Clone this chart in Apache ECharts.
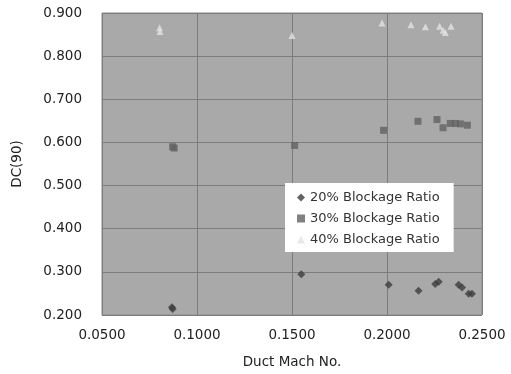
<!DOCTYPE html>
<html>
<head>
<meta charset="utf-8">
<script src="https://cdn.jsdelivr.net/npm/echarts@6/dist/echarts.min.js"></script>
<style>
  html, body { margin: 0; padding: 0; background: #fff; }
  #main { width: 511px; height: 374px; }
</style>
</head>
<body>
<div id="main"></div>
<script>
// series data
var mach20 = [0.0868, 0.0872, 0.1549, 0.2009, 0.2166, 0.2254, 0.2272, 0.2377, 0.2395, 0.2430, 0.2447];
var dc20 = [0.218, 0.214, 0.2945, 0.270, 0.256, 0.272, 0.277, 0.270, 0.264, 0.249, 0.249];

var mach30 = [0.0872, 0.0880, 0.1514, 0.1982, 0.2163, 0.2263, 0.2295, 0.2333, 0.2360, 0.2386, 0.2423];
var dc30 = [0.590, 0.587, 0.593, 0.628, 0.649, 0.653, 0.634, 0.644, 0.644, 0.643, 0.640];

var mach40 = [0.0803, 0.0805, 0.1500, 0.1974, 0.2126, 0.2202, 0.2277, 0.2295, 0.2307, 0.2337];
var dc40 = [0.866, 0.857, 0.848, 0.877, 0.873, 0.868, 0.869, 0.860, 0.855, 0.869];

var seriesNames = ['20% Blockage Ratio', '30% Blockage Ratio', '40% Blockage Ratio'];

function pairs(xs, ys) {
    return xs.map(function (x, i) { return [x, ys[i]]; });
}

var myChart = echarts.init(document.getElementById('main'));
var font = 'DejaVu Sans, sans-serif';

var option = {
    backgroundColor: '#fff',
    animation: false,
    grid: {
        left: 102,
        right: 29,
        top: 13,
        bottom: 56,
        show: true,
        backgroundColor: '#a9a9a9',
        borderColor: '#8a8a8a',
        borderWidth: 1
    },
    legend: {
        orient: 'vertical',
        left: 285,
        top: 183,
        padding: [8, 14, 6, 12],
        itemGap: 8,
        itemWidth: 8,
        itemHeight: 8,
        backgroundColor: '#fff',
        textStyle: { fontFamily: font, fontSize: 13, color: '#333' },
        data: seriesNames
    },
    xAxis: {
        type: 'value',
        min: 0.05,
        max: 0.25,
        interval: 0.05,
        name: 'Duct Mach No.',
        nameLocation: 'middle',
        nameGap: 40,
        nameTextStyle: { fontFamily: font, fontSize: 13.5, color: '#222' },
        axisLine: { show: false },
        axisTick: { show: false },
        axisLabel: {
            fontFamily: font, fontSize: 13.5, color: '#222', margin: 13,
            formatter: function (v) { return v.toFixed(4); }
        },
        splitLine: { lineStyle: { color: '#7c7c7c', width: 1 } }
    },
    yAxis: {
        type: 'value',
        min: 0.2,
        max: 0.9,
        interval: 0.1,
        name: 'DC(90)',
        nameLocation: 'middle',
        nameGap: 78,
        nameTextStyle: { fontFamily: font, fontSize: 13.5, color: '#222' },
        axisLine: { show: false },
        axisTick: { show: false },
        axisLabel: {
            fontFamily: font, fontSize: 13.5, color: '#222', margin: 20,
            formatter: function (v) { return v.toFixed(3); }
        },
        splitLine: { lineStyle: { color: '#7c7c7c', width: 1 } }
    },
    series: [{
        name: seriesNames[0],
        type: 'scatter',
        symbol: 'diamond',
        symbolSize: 8,
        itemStyle: { color: '#3c3c3c' },
        data: pairs(mach20, dc20)
    }, {
        name: seriesNames[1],
        type: 'scatter',
        symbol: 'rect',
        symbolSize: 7,
        itemStyle: { color: '#626262' },
        data: pairs(mach30, dc30)
    }, {
        name: seriesNames[2],
        type: 'scatter',
        symbol: 'triangle',
        symbolSize: 7,
        itemStyle: { color: '#e2e2e2' },
        data: pairs(mach40, dc40)
    }]
};
myChart.setOption(option);
</script>
</body>
</html>
